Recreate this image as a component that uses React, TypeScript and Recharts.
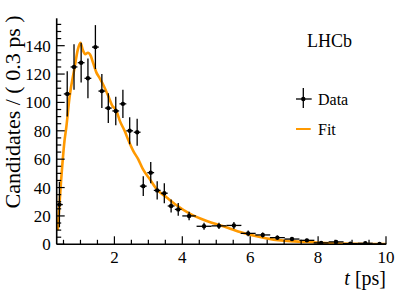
import { ComposedChart, XAxis, YAxis, Scatter, Line, ErrorBar } from 'recharts';

const FONT = '"Liberation Serif", "DejaVu Serif", serif';
const ORANGE = '#ff9900';

// measured points (decay time in ps, candidates per bin)
const dataT = [0.38, 0.61, 0.81, 1.02, 1.22, 1.44, 1.63, 1.82, 2.04, 2.25, 2.45, 2.67, 2.85, 3.07, 3.26, 3.47, 3.67, 3.88, 4.2, 4.64, 5.08, 5.52, 5.94, 6.37, 6.8, 7.23, 7.67, 8.09, 8.53, 8.95, 9.39, 9.81];
const dataY = [28, 106, 125, 128, 117, 139, 108, 96, 94, 99, 80, 79, 41, 50.5, 38, 36, 27, 24.6, 20, 12.7, 13, 13.3, 7.7, 6.6, 4.7, 3.7, 2.8, 1, 1.7, 0.5, 0.7, 0.2];
const dataErrY = [16, 16, 16, 14, 14, 15.5, 12, 10.5, 10, 10, 9.5, 9.5, 7, 7.5, 6.5, 7, 4.5, 4.5, 3, 2.5, 2.2, 2.5, 2, 1.8, 1.5, 1.3, 1.2, 1, 1, 0.7, 0.7, 0.5];
const dataErrX = [0.1, 0.1, 0.1, 0.1, 0.1, 0.1, 0.1, 0.1, 0.1, 0.1, 0.1, 0.1, 0.1, 0.1, 0.1, 0.1, 0.1, 0.1, 0.2, 0.22, 0.22, 0.22, 0.22, 0.22, 0.22, 0.22, 0.22, 0.22, 0.22, 0.22, 0.22, 0.2];

// fit curve
const fitT = [0.33, 0.43, 0.53, 0.58, 0.68, 0.83, 0.92, 1.0, 1.07, 1.14, 1.22, 1.3, 1.37, 1.47, 1.57, 1.66, 1.81, 1.93, 2.06, 2.16, 2.3, 2.4, 2.55, 2.7, 2.84, 3.04, 3.24, 3.54, 3.83, 4.22, 4.72, 5.21, 5.7, 6.19, 6.69, 7.67, 8.66, 9.63, 10];
const fitY = [10, 45, 73, 82, 104, 125, 137, 142, 137, 134, 135, 133, 128, 121, 117, 113, 105, 98, 94, 87, 80, 74, 66, 60, 53, 46, 39, 33, 27.5, 21.6, 16.4, 12.7, 8.7, 5.6, 3.3, 1.6, 0.5, 0.2, 0.15];

const xMajor = [2, 4, 6, 8, 10];
const yMajor = [0, 20, 40, 60, 80, 100, 120, 140];
const xTicks = Array.from({ length: 20 }, (_, i) => 0.5 + i * 0.5);
const yTicks = Array.from({ length: 32 }, (_, i) => i * 5);

const points = dataT.map((t, i) => ({ t, y: dataY[i], ey: dataErrY[i], ex: dataErrX[i] }));
const fit = fitT.map((t, i) => ({ t, y: fitY[i] }));

const isMajor = (v: number, list: number[]) => list.some((m) => Math.abs(m - v) < 1e-6);

const BottomTick = (p: any) => {
  const major = isMajor(p.payload.value, xMajor);
  return (
    <g>
      <line x1={p.x} y1={p.y} x2={p.x} y2={p.y - (major ? 8 : 4.5)} stroke="#000" strokeWidth={1.2} />
      {major && (
        <text x={p.x} y={p.y + 18.5} textAnchor="middle" fontSize={17} fontFamily={FONT} fill="#000">
          {p.payload.value}
        </text>
      )}
    </g>
  );
};

const TopTick = (p: any) => {
  const major = isMajor(p.payload.value, xMajor);
  return <line x1={p.x} y1={p.y} x2={p.x} y2={p.y + (major ? 8 : 4.5)} stroke="#000" strokeWidth={1.2} />;
};

const LeftTick = (p: any) => {
  const major = isMajor(p.payload.value, yMajor);
  return (
    <g>
      <line x1={p.x} y1={p.y} x2={p.x + (major ? 8 : 4.5)} y2={p.y} stroke="#000" strokeWidth={1.2} />
      {major && (
        <text x={p.x - 6} y={p.y} dy="0.35em" textAnchor="end" fontSize={17} fontFamily={FONT} fill="#000">
          {p.payload.value}
        </text>
      )}
    </g>
  );
};

const RightTick = (p: any) => {
  const major = isMajor(p.payload.value, yMajor);
  return <line x1={p.x} y1={p.y} x2={p.x - (major ? 8 : 4.5)} y2={p.y} stroke="#000" strokeWidth={1.2} />;
};

const Dot = (p: any) => <circle cx={p.cx} cy={p.cy} r={2.2} fill="#000" />;

export default function App() {
  return (
    <div style={{ position: 'absolute', left: 0, top: 0, width: 407, height: 292, background: '#fff' }}>
      <ComposedChart width={407} height={292} margin={{ top: 18.3, right: 21, bottom: 0, left: 0 }}>
        <XAxis
          xAxisId="b"
          type="number"
          dataKey="t"
          orientation="bottom"
          domain={[0.3, 10]}
          allowDataOverflow
          ticks={xTicks}
          interval={0}
          height={47.7}
          tickSize={0}
          tickMargin={0}
          tickLine={false}
          tick={<BottomTick />}
          axisLine={{ stroke: '#000', strokeWidth: 1.6 }}
        />
        <XAxis
          xAxisId="top"
          type="number"
          dataKey="t"
          orientation="top"
          domain={[0.3, 10]}
          allowDataOverflow
          ticks={xTicks}
          interval={0}
          height={0}
          tickSize={0}
          tickMargin={0}
          tickLine={false}
          tick={<TopTick />}
          axisLine={{ stroke: '#000', strokeWidth: 1.6 }}
        />
        <YAxis
          yAxisId="l"
          type="number"
          dataKey="y"
          orientation="left"
          domain={[0, 159.3]}
          allowDataOverflow
          ticks={yTicks}
          interval={0}
          width={56.7}
          tickSize={0}
          tickMargin={0}
          tickLine={false}
          tick={<LeftTick />}
          axisLine={{ stroke: '#000', strokeWidth: 1.6 }}
        />
        <YAxis
          yAxisId="r"
          type="number"
          dataKey="y"
          orientation="right"
          domain={[0, 159.3]}
          allowDataOverflow
          ticks={yTicks}
          interval={0}
          width={0}
          tickSize={0}
          tickMargin={0}
          tickLine={false}
          tick={<RightTick />}
          axisLine={{ stroke: '#000', strokeWidth: 1.6 }}
        />
        <Line
          xAxisId="b"
          yAxisId="l"
          data={fit}
          dataKey="y"
          type="monotone"
          stroke={ORANGE}
          strokeWidth={2.6}
          dot={false}
          isAnimationActive={false}
        />
        <Scatter xAxisId="b" yAxisId="l" data={points} dataKey="y" shape={<Dot />} isAnimationActive={false}>
          <ErrorBar dataKey="ey" direction="y" width={0} stroke="#000" strokeWidth={1.3} />
          <ErrorBar dataKey="ex" direction="x" width={0} stroke="#000" strokeWidth={1.3} />
        </Scatter>
      </ComposedChart>
      <svg width={407} height={292} style={{ position: 'absolute', left: 0, top: 0, pointerEvents: 'none' }}>
        <text transform="translate(20,112) rotate(-90)" textAnchor="middle" fontSize={22} fontFamily={FONT} fill="#000">
          Candidates / ( 0.3 ps )
        </text>
        <text x={386} y={285} textAnchor="end" fontSize={20} fontFamily={FONT} fill="#000">
          <tspan fontStyle="italic">t</tspan> [ps]
        </text>
        <text x={307} y={47} fontSize={18} fontFamily={FONT} fill="#000">
          LHCb
        </text>
        <line x1={296} y1={99} x2={311.7} y2={99} stroke="#000" strokeWidth={1.3} />
        <line x1={303.3} y1={88} x2={303.3} y2={108} stroke="#000" strokeWidth={1.3} />
        <circle cx={303.3} cy={99} r={2.2} fill="#000" />
        <text x={318} y={105} fontSize={16} fontFamily={FONT} fill="#000">
          Data
        </text>
        <line x1={296} y1={129} x2={310.7} y2={129} stroke={ORANGE} strokeWidth={2} />
        <text x={318} y={135} fontSize={16} fontFamily={FONT} fill="#000">
          Fit
        </text>
      </svg>
    </div>
  );
}
